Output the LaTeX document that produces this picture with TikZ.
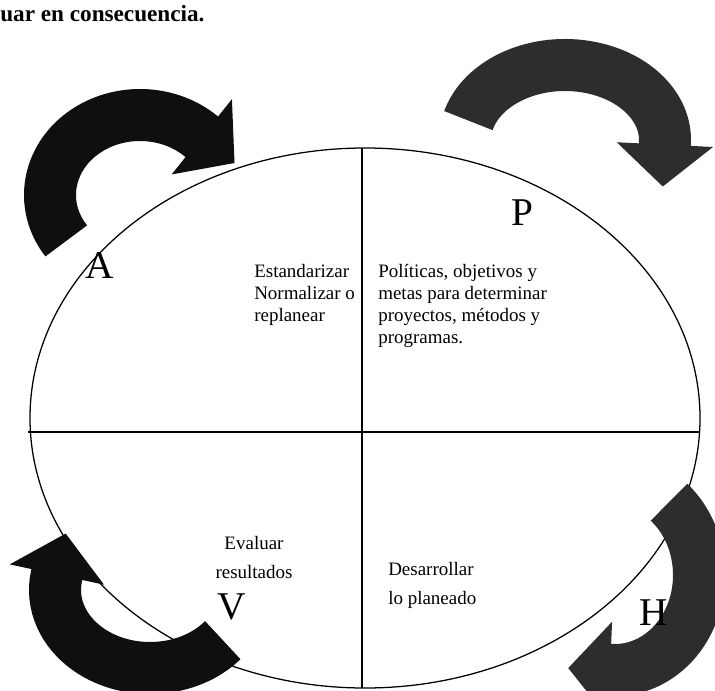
\documentclass[tikz,border=0pt]{standalone}
\usepackage{fontspec}
\setmainfont{Liberation Serif}
\usetikzlibrary{arrows.meta, positioning}
\definecolor{arrowblack}{RGB}{15, 15, 15}
\definecolor{arrowgray}{RGB}{45, 45, 45}
\tikzset{
  cyclearrow/.style={line width=1.3cm, -{Triangle[length=1.05cm, width=2.35cm]}},
  quadtext/.style={font=\fontsize{13.5}{15.6}\selectfont, align=left, inner sep=0pt},
  lowtext/.style={font=\fontsize{13.5}{21}\selectfont, align=left, inner sep=0pt},
  cycleletter/.style={font=\fontsize{28}{30}\selectfont, inner sep=0pt}
}

\begin{document}
\begin{tikzpicture}
  \useasboundingbox (0,0) rectangle (17.875,17.25);

  % Line left over from the page text
  \node[anchor=base west, inner sep=0pt, font=\fontsize{16.5}{18}\selectfont\bfseries] (prevline) at (0,16.7) {uar en consecuencia.};

  % Ellipse split in four
  \coordinate (mid) at (9.125,6.8);
  \draw[line width=0.9pt] (mid) ellipse [x radius=8.375, y radius=6.75];
  \coordinate (hleft) at (0.7,6.45);
  \coordinate (hright) at (17.5,6.45);
  \coordinate (vtop) at (9.05,13.55);
  \coordinate (vbottom) at (9.05,0.05);
  \draw[line width=0.9pt] (hleft) -- (hright);
  \draw[line width=0.9pt] (vtop) -- (vbottom);

  % Quadrant texts
  \node[quadtext, anchor=north west] (acttext) at (6.35,10.65) {Estandarizar\\Normalizar o\\replanear};
  \node[quadtext, anchor=north west] (plantext) at (9.45,10.65) {Políticas, objetivos y\\metas para determinar\\proyectos, métodos y\\programas.};
  \node[lowtext, align=center, anchor=north] (checktext) at (6.35,3.85) {Evaluar\\resultados};
  \node[lowtext, anchor=north west] (dotext) at (9.7,3.2) {Desarrollar\\lo planeado};

  % Cycle arrows (arc, then a short straight piece that carries the head)
  \coordinate (actc) at (3.5,12.375);
  \draw[cyclearrow, arrowblack] ([shift={(215:2.25 and 2)}]actc) arc[start angle=215, end angle=48, x radius=2.25, y radius=2] -- ++(0.859,-0.688);
  \coordinate (planc) at (14.125,13.75);
  \draw[cyclearrow, arrowgray] ([shift={(165:2.5 and 1.875)}]planc) arc[start angle=165, end angle=-2, x radius=2.5, y radius=1.875] -- ++(-0.054,-1.099);
  \coordinate (doc) at (15.375,2.875);
  \draw[cyclearrow, arrowgray] ([shift={(50:2.1 and 2.375)}]doc) arc[start angle=50, end angle=-92, x radius=2.1, y radius=2.375] -- ++(-1.099,0.046);
  \coordinate (checkc) at (3.75,2.5);
  \draw[cyclearrow, arrowblack] ([shift={(-40:2.375 and 1.95)}]checkc) arc[start angle=-40, end angle=-190, x radius=2.375, y radius=1.95] -- ++(0.231,1.075);

  % Letters
  \node[cycleletter] (letA) at (2.5,10.6) {A};
  \node[cycleletter] (letP) at (13.05,11.93) {P};
  \node[cycleletter] (letV) at (5.8,2.08) {V};
  \node[cycleletter] (letH) at (16.35,1.93) {H};
\end{tikzpicture}
\end{document}
